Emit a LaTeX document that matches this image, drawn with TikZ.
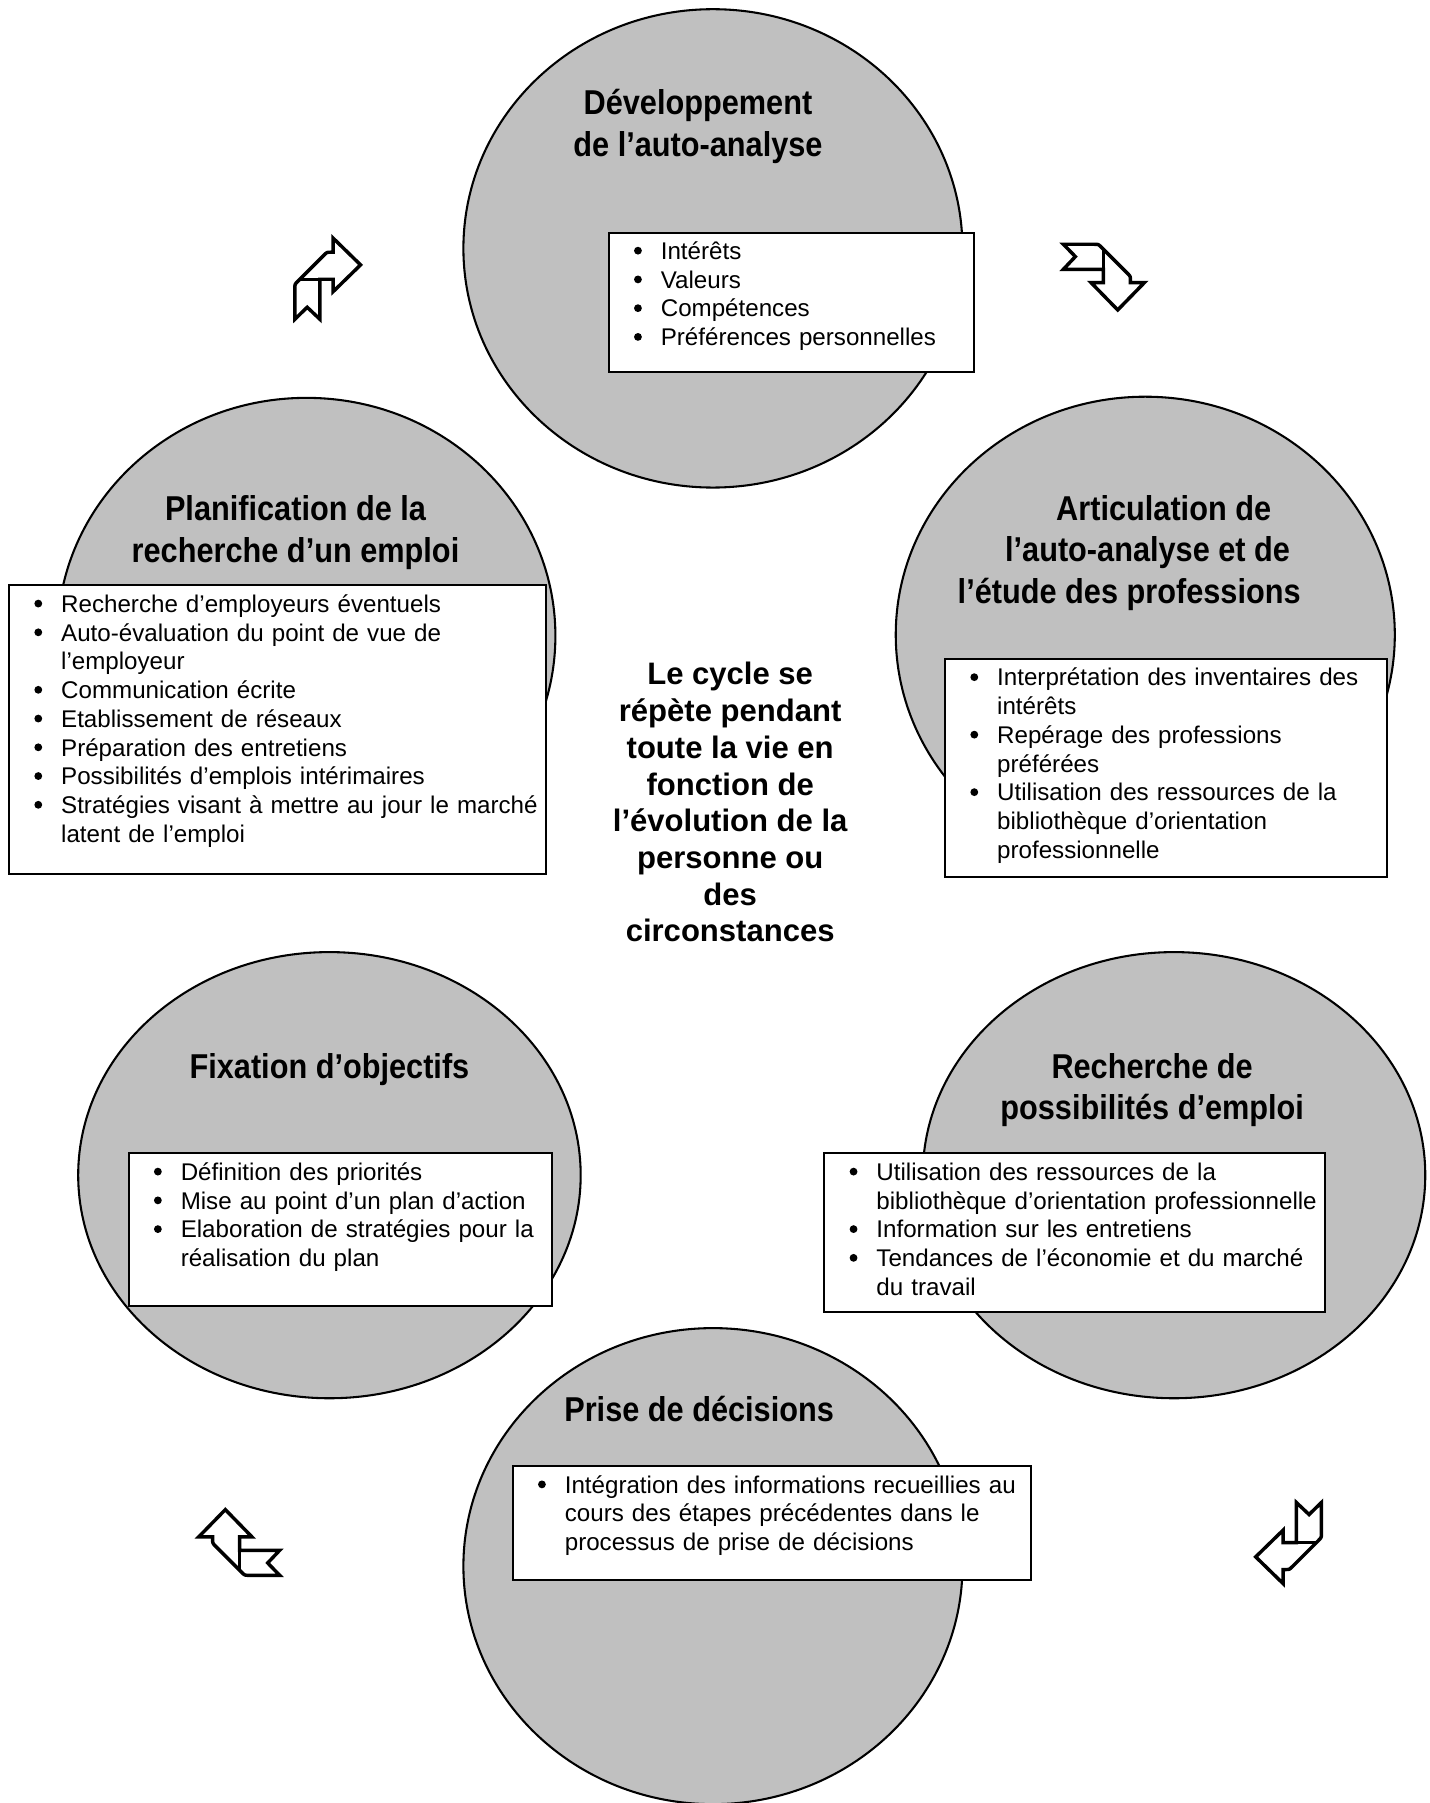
\documentclass[tikz,border=0pt]{standalone}
\usepackage{fontspec}
\setmainfont{Liberation Sans}
\newfontfamily\headfont[FakeStretch=0.89]{Liberation Sans}
\usetikzlibrary{shapes.geometric}
\definecolor{discgray}{RGB}{192,192,192}
\newcommand\point[1]{\leavevmode\llap{\tikz[baseline=-7.6pt]\fill (0pt,0pt) circle[radius=3.4pt];\hspace{16.5pt}}#1}
\tikzset{
  stage/.style={ellipse, draw, fill=discgray, line width=1.8pt, inner sep=0pt},
  listbox/.style={rectangle, draw, fill=white, line width=1.8pt, anchor=north west, inner sep=0pt},
  listtext/.style={anchor=base west, inner sep=0pt, text width=430pt, align=left,
    font=\fontsize{21}{25}\selectfont},
  headtext/.style={anchor=base, inner sep=0pt, align=center,
    font=\headfont\bfseries\fontsize{30}{36.3}\selectfont},
  cycletext/.style={anchor=base, inner sep=0pt, align=center,
    font=\bfseries\fontsize{27}{31.9}\selectfont},
  ribbonline/.style={line width=3pt, line join=miter},
  ribbon/.pic={
    \begin{scope}[scale=0.29]
      \draw[ribbonline, fill=white] (-23.5,121.5) -- (-23.5,1.5) -- (16.5,1.5) -- (16.5,38.5)
        -- (98.5,-41.5) -- (16.5,-121.5) -- (16.5,-79.5) -- (9.5,-79.5)
        .. controls (-2.5,-79.5) .. (-11,-71) -- (-90,8)
        .. controls (-98.5,16.5) .. (-98.5,28.5) -- (-98.5,121.5) -- (-61.5,85.5) -- cycle;
      \draw[ribbonline] (-23.5,1.5) -- (-83.5,1.5);
    \end{scope}
  }
}
\begin{document}
\begin{tikzpicture}[x=1pt, y=-1pt]
  \path[use as bounding box, clip] (0,0) rectangle (1243,1568);

  % the six stages
  \node[stage, minimum width=434pt, minimum height=416pt] (c1) at (620,216) {};
  \node[stage, minimum width=434pt, minimum height=414pt] (c2) at (996,552) {};
  \node[stage, minimum width=433pt, minimum height=414pt] (c3) at (266.5,553) {};
  \node[stage, minimum width=437pt, minimum height=388pt] (c4) at (286.5,1022) {};
  \node[stage, minimum width=437pt, minimum height=388pt] (c5) at (1021,1022) {};
  \node[stage, minimum width=434pt, minimum height=414pt] (c6) at (620,1362) {};

  \node[listbox, minimum width=317.5pt, minimum height=121pt] (b1) at (528.5,201.5) {};
  \node[listbox, minimum width=384pt, minimum height=190pt] (b2) at (821,572) {};
  \node[listbox, minimum width=467pt, minimum height=251pt] (b3) at (7,508) {};
  \node[listbox, minimum width=368pt, minimum height=133pt] (b4) at (111,1002) {};
  \node[listbox, minimum width=435pt, minimum height=138pt] (b5) at (716,1002) {};
  \node[listbox, minimum width=451pt, minimum height=99pt] (b6) at (445,1274) {};

  \node[headtext] (t1) at (607,136) {Développement\\de l’auto-analyse};
  \node[headtext] (t2) at (982,525) {\hspace*{60pt}Articulation de\\\hspace*{32pt}l’auto-analyse et de\\l’étude des professions};
  \node[headtext] (t3) at (257,489) {Planification de la\\recherche d’un emploi};
  \node[headtext] (t4) at (286.5,938) {Fixation d’objectifs};
  \node[headtext] (t5) at (1002,974) {Recherche de\\possibilités d’emploi};
  \node[headtext] (t6) at (608,1236) {Prise de décisions};

  \node[listtext] (l1) at (574.5,225.6) {\point{Intérêts}\\\point{Valeurs}\\\point{Compétences}\\\point{Préférences personnelles}};
  \node[listtext] (l2) at (867,596.5) {\point{Interprétation des inventaires des}\\intérêts\\\point{Repérage des professions}\\préférées\\\point{Utilisation des ressources de la}\\bibliothèque d’orientation\\professionnelle};
  \node[listtext] (l3) at (53,532.5) {\point{Recherche d’employeurs éventuels}\\\point{Auto-évaluation du point de vue de}\\l’employeur\\\point{Communication écrite}\\\point{Etablissement de réseaux}\\\point{Préparation des entretiens}\\\point{Possibilités d’emplois intérimaires}\\\point{Stratégies visant à mettre au jour le marché}\\latent de l’emploi};
  \node[listtext] (l4) at (157,1026.5) {\point{Définition des priorités}\\\point{Mise au point d’un plan d’action}\\\point{Elaboration de stratégies pour la}\\réalisation du plan};
  \node[listtext] (l5) at (762,1026.5) {\point{Utilisation des ressources de la}\\bibliothèque d’orientation professionnelle\\\point{Information sur les entretiens}\\\point{Tendances de l’économie et du marché}\\du travail};
  \node[listtext] (l6) at (491,1298.5) {\point{Intégration des informations recueillies au}\\cours des étapes précédentes dans le\\processus de prise de décisions};

  \node[cycletext] (cycle) at (635,819) {Le cycle se\\répète pendant\\toute la vie en\\fonction de\\l’évolution de la\\personne ou\\des\\circonstances};

  % arrows between the stages
  \pic (arrA) at (285,242.4) {ribbon};
  \pic[rotate=-90] (arrB) at (960,241) {ribbon};
  \pic[rotate=180] (arrC) at (1120.6,1341.9) {ribbon};
  \pic[rotate=90] (arrD) at (208,1341.4) {ribbon};
\end{tikzpicture}
\end{document}
